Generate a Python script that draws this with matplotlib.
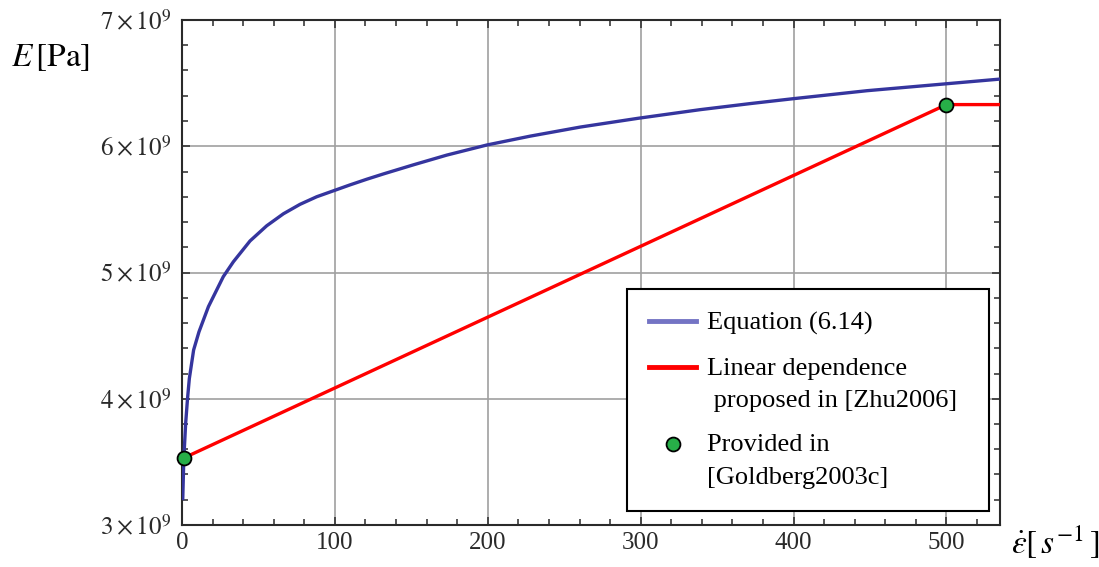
import numpy as np
import matplotlib
matplotlib.use("Agg")
import matplotlib.pyplot as plt
from matplotlib.ticker import MultipleLocator, FixedLocator, FixedFormatter
from matplotlib.lines import Line2D
from matplotlib.legend_handler import HandlerLine2D

plt.rcParams['font.family'] = ['Liberation Serif', 'DejaVu Serif']
plt.rcParams['mathtext.fontset'] = 'stix'

# ---- data ----
# Equation (6.14) curve: strain rate [1/s] and modulus [Pa]
eq_rate = [0.5, 1.2, 2.4, 3.6, 4.8, 7.6, 11.1, 17.3, 27.0, 33.6, 44.5, 55.4,
           66.3, 77.2, 88.1, 99.7, 109.9, 120.9, 131.8, 151.4, 173.2, 199.4,
           227.7, 260.5, 298.6, 339.0, 371.7, 400.0, 448.0, 500.0, 535.0]
eq_E = [3.21e9, 3.53e9, 3.806e9, 4.0e9, 4.16e9, 4.386e9, 4.53e9, 4.73e9,
        4.967e9, 5.085e9, 5.25e9, 5.37e9, 5.465e9, 5.54e9, 5.6e9, 5.65e9,
        5.694e9, 5.739e9, 5.781e9, 5.853e9, 5.93e9, 6.01e9, 6.08e9, 6.152e9,
        6.222e9, 6.29e9, 6.338e9, 6.377e9, 6.44e9, 6.495e9, 6.532e9]

# Linear dependence [Zhu2006]
lin_rate = [1, 500, 535]
lin_E = [3.53e9, 6.33e9, 6.33e9]

# Provided in [Goldberg2003c]
prov_rate = [1, 500]
prov_E = [3.53e9, 6.33e9]

x_ticks = [0, 100, 200, 300, 400, 500]
x_tick_labels = ['0', '100', '200', '300', '400', '500']
y_ticks = [3e9, 4e9, 5e9, 6e9, 7e9]
y_tick_labels = [r'$3\times10^{9}$', r'$4\times10^{9}$', r'$5\times10^{9}$',
                 r'$6\times10^{9}$', r'$7\times10^{9}$']

labels = ['Equation (6.14)', 'Linear dependence\n proposed in [Zhu2006]',
          'Provided in\n[Goldberg2003c]']

# ---- styling ----
blue = '#35359e'
blue_leg = '#7474c4'
red = '#ff0000'
green = '#27ae48'
dark = '#2a2a2a'
grid_c = '#a0a0a0'

fig = plt.figure(figsize=(10.99, 5.67), dpi=100)
ax = fig.add_axes([182/1099, 1 - 525/567, (1000-182)/1099, (525-20)/567])

ax.plot(eq_rate, eq_E, color=blue, lw=2.4, solid_joinstyle='round', zorder=3)
ax.plot(lin_rate, lin_E, color=red, lw=2.4, zorder=4)
ax.plot(prov_rate, prov_E, linestyle='none', marker='o', ms=10,
        mfc=green, mec='black', mew=1.3, zorder=5, clip_on=False)

ax.set_xlim(0, 535)
ax.set_ylim(3e9, 7e9)

ax.xaxis.set_major_locator(FixedLocator(x_ticks))
ax.xaxis.set_major_formatter(FixedFormatter(x_tick_labels))
ax.yaxis.set_major_locator(FixedLocator(y_ticks))
ax.yaxis.set_major_formatter(FixedFormatter(y_tick_labels))
ax.xaxis.set_minor_locator(MultipleLocator(20))
ax.yaxis.set_minor_locator(MultipleLocator(0.2e9))

ax.tick_params(which='both', direction='in', top=True, right=True,
               color=dark, width=1.1)
ax.tick_params(which='major', length=5.5)
ax.tick_params(which='minor', length=4)
ax.tick_params(axis='x', which='major', labelsize=18, pad=5, labelcolor=dark)
ax.tick_params(axis='y', which='major', labelsize=18, pad=8, labelcolor=dark)

for s in ax.spines.values():
    s.set_color(dark)
    s.set_linewidth(1.5)

ax.grid(True, which='major', color=grid_c, lw=1.2)
ax.set_axisbelow(True)

fig.text(51/1099, 1 - 58/567, r'$E\,\left[\mathrm{Pa}\right]$', fontsize=24,
         ha='center', va='center', color='black')
fig.text(1055/1099, 1 - 543/567, r'$\dot{\varepsilon}\left[\,s^{-1}\,\right]$',
         fontsize=24, ha='center', va='center', color='black')


class ShiftedLine(HandlerLine2D):
    def __init__(self, shift=0.0, **kw):
        super().__init__(**kw)
        self.shift = shift

    def create_artists(self, legend, orig_handle, xdescent, ydescent, width,
                       height, fontsize, trans):
        arts = super().create_artists(legend, orig_handle, xdescent, ydescent,
                                      width, height, fontsize, trans)
        for a in arts:
            a.set_ydata(np.asarray(a.get_ydata(), dtype=float) + self.shift * fontsize)
        return arts


h_eq = Line2D([], [], color=blue_leg, lw=3.5)
h_lin = Line2D([], [], color=red, lw=3.5)
h_prov = Line2D([], [], linestyle='none', marker='o', ms=10, mfc=green,
                mec='black', mew=1.3)

leg = ax.legend([h_eq, h_lin, h_prov], labels, loc='upper left',
                bbox_to_anchor=((627-182)/818, 0.0, (989-627)/818, (525-289)/505),
                mode='expand', fontsize=19, frameon=True, fancybox=False,
                framealpha=1, edgecolor='black', borderpad=0.85,
                handlelength=1.75, handletextpad=0.45, labelspacing=0.85,
                borderaxespad=0,
                handler_map={h_lin: ShiftedLine(shift=0.64),
                             h_prov: ShiftedLine(shift=0.64)})
for t in leg.get_texts():
    t.set_linespacing(1.6)
leg.get_frame().set_linewidth(1.5)
leg.set_zorder(10)

fig.savefig('out.png', dpi=100)
